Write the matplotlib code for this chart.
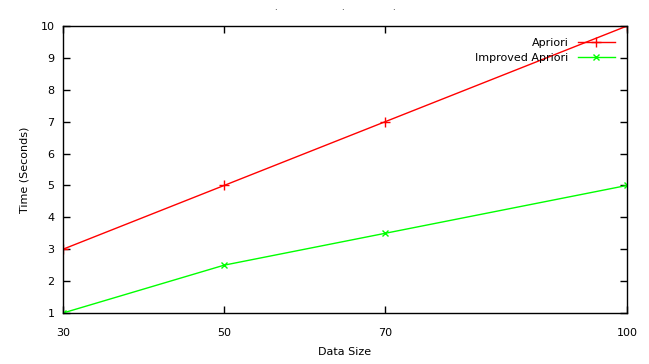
import matplotlib
matplotlib.use("Agg")
import matplotlib.pyplot as plt

data_size = [30, 50, 70, 100]
apriori = [3, 5, 7, 10]
improved = [1, 2.5, 3.5, 5]
x_ticks = [30, 50, 70, 100]
y_ticks = list(range(1, 11))

plt.rcParams['font.family'] = ['DejaVu Sans']
plt.rcParams['font.size'] = 8

fig = plt.figure(figsize=(6.49, 3.64), dpi=100)
ax = fig.add_axes([63/649, 51/364, (627-63)/649, (313-26)/364])

ax.plot(data_size, apriori, color='#ff0000', lw=1, marker='+', ms=7, mew=1, label='Apriori')
ax.plot(data_size, improved, color='#00ff00', lw=1, marker='x', ms=5, mew=1, label='Improved Apriori')

ax.set_xlim(30, 100)
ax.set_ylim(1, 10)
ax.set_xticks(x_ticks)
ax.set_yticks(y_ticks)
ax.tick_params(direction='in', top=True, right=True, length=5, width=1, labelsize=8)
ax.tick_params(axis='x', pad=11)
ax.tick_params(axis='y', pad=6)
for s in ax.spines.values():
    s.set_linewidth(1)
ax.set_xlabel('Data Size', fontsize=8, labelpad=6)
ax.set_ylabel('Time (Seconds)', fontsize=8, labelpad=8)

ax.legend(loc='upper right', frameon=False, markerfirst=False, fontsize=8,
          handlelength=3.4, borderaxespad=0.65, labelspacing=0.45, handletextpad=0.8)

for xp in [275, 342, 393]:
    fig.text(xp/649, 1 - 8/364, '.', fontsize=6, ha='center', va='center')

fig.savefig('out.png', dpi=100)
